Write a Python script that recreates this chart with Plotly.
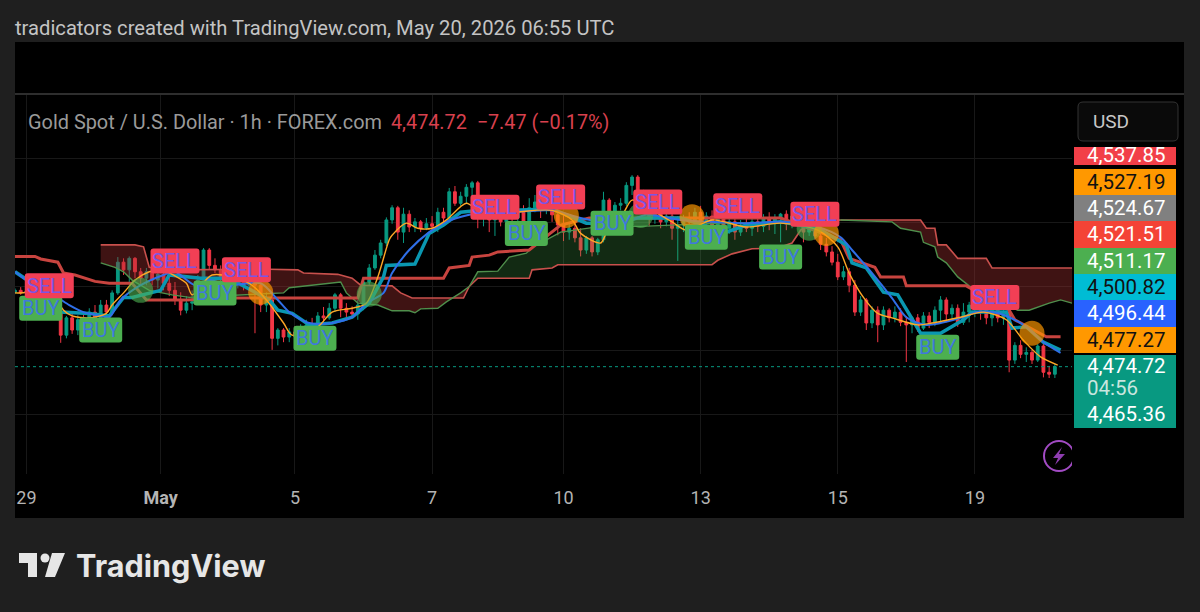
import plotly.graph_objects as go

# candles, one every second hourly bar
candle_open = [4591,4594,4590,4593,4587,4591,4579,4585,4560,4524,4551,4532,4548,4540,4560,4551,4571,4560,4590,4638,
               4626,4644,4623,4613,4623,4610,4619,4605,4594,4579,4563,4574,4576,4610,4657,4633,4626,4613,4623,4607,
               4613,4602,4610,4602,4571,4579,4519,4532,4521,4529,4522,4535,4540,4537,4554,4551,4566,4587,4566,4560,
               4557,4571,4607,4629,4649,4668,4704,4723,4685,4713,4693,4701,4691,4698,4694,4716,4707,4748,4730,4741,
               4755,4762,4712,4726,4704,4716,4701,4713,4707,4716,4701,4723,4732,4719,4727,4712,4696,4685,4691,4676,
               4657,4676,4654,4673,4735,4712,4727,4730,4758,4771,4743,4723,4707,4716,4701,4710,4691,4696,4707,4701,
               4716,4701,4710,4694,4707,4691,4701,4685,4696,4691,4701,4694,4707,4698,4707,4713,4698,4710,4701,4685,
               4701,4679,4666,4654,4638,4615,4623,4602,4560,4579,4543,4563,4540,4563,4551,4560,4544,4540,4551,4535,
               4554,4544,4563,4579,4557,4566,4544,4560,4571,4585,4563,4551,4563,4551,4560,4485,4508,4494,4497,4485,
               4507,4466,4463]
candle_high = [4597,4599,4596,4597,4594,4594,4591,4588,4571,4554,4560,4555,4558,4566,4571,4579,4579,4594,4646,4644,
               4647,4646,4629,4629,4632,4629,4629,4623,4607,4591,4585,4594,4618,4660,4660,4644,4633,4632,4629,4623,
               4623,4618,4616,4605,4591,4590,4535,4535,4535,4538,4541,4548,4551,4560,4568,4574,4590,4590,4574,4569,
               4579,4613,4635,4657,4673,4708,4727,4726,4723,4719,4707,4704,4707,4710,4723,4723,4754,4757,4748,4760,
               4765,4765,4735,4732,4726,4723,4719,4723,4726,4727,4738,4743,4738,4740,4735,4723,4712,4698,4701,4691,
               4679,4679,4676,4748,4738,4732,4738,4763,4774,4774,4751,4730,4723,4727,4716,4716,4710,4712,4716,4723,
               4726,4716,4719,4713,4716,4710,4710,4704,4707,4710,4712,4713,4716,4713,4715,4719,4716,4719,4710,4707,
               4704,4688,4676,4663,4651,4632,4629,4610,4585,4582,4569,4569,4569,4566,4569,4566,4554,4554,4557,4560,
               4560,4569,4585,4583,4572,4572,4574,4576,4590,4588,4569,4569,4569,4569,4563,4513,4516,4505,4501,4510,
               4510,4476,4479]
candle_low = [4588,4587,4585,4582,4579,4571,4563,4551,4512,4519,4526,4524,4532,4535,4541,4544,4540,4555,4587,4618,
              4607,4613,4604,4602,4602,4597,4594,4585,4571,4555,4558,4563,4571,4605,4626,4621,4607,4605,4601,4597,
              4594,4594,4527,4560,4560,4501,4508,4513,4513,4519,4519,4526,4527,4532,4543,4548,4560,4552,4551,4551,
              4548,4563,4602,4626,4644,4663,4698,4673,4668,4685,4685,4685,4688,4685,4685,4701,4704,4726,4726,4729,
              4727,4691,4694,4685,4679,4694,4694,4688,4685,4688,4691,4716,4707,4713,4701,4680,4671,4673,4669,4647,
              4651,4647,4649,4669,4693,4701,4719,4726,4743,4732,4716,4694,4698,4691,4694,4673,4640,4685,4688,4691,
              4694,4688,4685,4688,4679,4682,4673,4679,4685,4679,4685,4685,4688,4682,4669,4688,4691,4694,4669,4679,
              4673,4657,4647,4633,4610,4610,4591,4554,4554,4532,4535,4513,4532,4544,4544,4538,4482,4527,4529,4532,
              4535,4538,4544,4544,4548,4537,4540,4544,4552,4548,4541,4538,4544,4540,4466,4479,4488,4482,4479,4482,
              4458,4457,4457]
candle_close = [4594,4590,4593,4587,4591,4579,4585,4560,4524,4551,4532,4548,4540,4560,4551,4571,4560,4590,4638,4626,
                4644,4623,4613,4623,4610,4619,4605,4594,4579,4563,4574,4576,4610,4657,4633,4626,4613,4623,4607,4613,
                4602,4610,4602,4571,4579,4519,4532,4521,4529,4522,4535,4540,4537,4554,4551,4566,4587,4566,4560,4557,
                4571,4607,4629,4649,4668,4704,4723,4685,4713,4693,4701,4691,4698,4694,4716,4707,4748,4730,4741,4755,
                4762,4712,4726,4704,4716,4701,4713,4707,4716,4701,4723,4732,4719,4727,4712,4696,4685,4691,4676,4657,
                4676,4654,4673,4735,4712,4727,4730,4758,4771,4743,4723,4707,4716,4701,4710,4691,4696,4707,4701,4716,
                4701,4710,4694,4707,4691,4701,4685,4696,4691,4701,4694,4707,4698,4707,4713,4698,4710,4701,4685,4701,
                4679,4666,4654,4638,4615,4623,4602,4560,4579,4543,4563,4540,4563,4551,4560,4544,4540,4551,4535,4554,
                4544,4563,4579,4557,4566,4544,4560,4571,4585,4563,4551,4563,4551,4560,4485,4508,4494,4497,4485,4507,
                4466,4463,4474.72]
candle_bars = list(range(0, 2 * len(candle_close), 2))

# moving averages
fast_bars = [0,4,9,14,17,20,26,32,34,38,42,47,52,55,60,62,69,82,88,94,97,106,111,118,123,127,131,132,137,141,146,151,
             158,163,174,188,195,198,205,207,213,216,223,230,235,244,256,268,281,288,292,297,302,307,316,321,331,339,
             347,353,359,365]
fast_vals = [4590,4591,4602,4583,4563,4554,4551,4558,4571,4590,4610,4623,4626,4619,4605,4587,4618,4605,4579,4543,4524,
             4537,4560,4566,4574,4615,4673,4680,4699,4691,4691,4704,4730,4716,4716,4719,4704,4683,4668,4683,4715,4735,
             4719,4701,4688,4704,4693,4699,4688,4662,4621,4583,4558,4551,4540,4543,4552,4560,4548,4516,4490,4477.27]
blue_bars = [0,4,9,14,19,24,30,33,37,44,52,56,63,68,75,86,92,96,103,111,118,123,129,132,138,145,151,159,163,174,188,198,
             209,216,221,233,244,256,268,281,289,293,300,307,312,319,331,337,342,348,354,360,366]
blue_vals = [4623,4610,4594,4585,4571,4560,4554,4552,4579,4602,4618,4623,4602,4610,4602,4605,4579,4560,4543,4543,4552,
             4574,4590,4621,4657,4685,4701,4712,4715,4716,4719,4707,4699,4704,4712,4704,4701,4699,4701,4693,4677,4657,
             4621,4582,4552,4540,4551,4560,4560,4552,4537,4513,4496.44]
cyan_bars = [0,7,12,16,26,33,38,41,51,54,65,75,89,92,97,103,111,118,124,129,130,140,145,150,156,163,174,188,200,209,218,
             233,249,256,268,281,291,293,298,304,309,314,317,324,332,335,347,349,354,360,366]
cyan_vals = [4623,4602,4579,4560,4558,4554,4583,4583,4594,4618,4613,4613,4579,4563,4558,4540,4543,4552,4574,4615,4633,
             4635,4683,4696,4716,4719,4719,4721,4699,4699,4707,4707,4685,4696,4701,4691,4665,4637,4629,4591,4587,4548,
             4527,4527,4548,4560,4560,4535,4537,4513,4500.82]
base_bars = [0,7,9,15,17,21,28,33,41,46,60,74,92,120,122,150,152,159,160,166,169,180,191,201,268,289,292,301,303,311,
             312,333,348,350,361,366]
base_vals = [4647,4647,4643,4638,4621,4618,4608,4605,4605,4579,4579,4582,4582,4582,4613,4613,4629,4633,4646,4649,4654,
             4657,4696,4707,4707,4673,4644,4630,4615,4615,4601,4601,4563,4548,4521.51,4521.51]

# cloud edges, shifted forward past the last bar
span_a_bars = [30,35,38,41,47,55,61,79,89,94,96,113,114,116,120,127,132,138,140,142,148,151,156,159,162,169,173,179,182,
               186,191,205,219,247,267,282,289,307,310,317,318,322,323,326,330,334,351,355,362,366,370]
span_a_vals = [4637,4630,4623,4610,4594,4587,4583,4587,4590,4590,4598,4606,4607,4590,4574,4571,4562,4562,4559,4565,4566,
               4576,4590,4600,4623,4624,4646,4652,4665,4673,4685,4694,4694,4699,4699,4701,4704,4701,4691,4685,4669,4662,
               4646,4637,4615,4601,4563,4563,4574,4579,4574]
span_b_bars = [30,42,45,47,54,89,99,101,113,118,121,128,132,135,139,157,159,162,180,181,188,190,244,246,251,258,267,272,
               275,280,289,317,319,322,323,326,330,340,342,370]
span_b_vals = [4665,4665,4662,4630,4626,4627,4626,4621,4619,4613,4602,4601,4601,4590,4582,4582,4600,4613,4613,4626,4629,
               4634,4634,4641,4651,4659,4660,4668,4688,4701,4704,4704,4691,4691,4665,4665,4644,4644,4629,4629]
cloud_cross = [159, 289]

# signals
sell_bars = [12,56,81,168,191,225,253,280,343]
sell_vals = [4601,4640,4626,4724,4740,4732,4726,4713,4583]
buy_bars = [9,30,70,105,179,209,242,268,323]
buy_vals = [4566,4532,4590,4519,4683,4699,4677,4646,4505]
cross_up_bars = [44,124,219,278]
cross_up_vals = [4594,4588,4711,4691]
cross_down_bars = [86,193,237,284,356]
cross_down_vals = [4591,4711,4709,4683,4527]

# price scale labels
scale_labels = ["4,537.85","4,527.19","4,524.67","4,521.51","4,511.17","4,500.82","4,496.44","4,477.27","4,474.72","4,465.36"]
scale_fills = ["#f23f48","#ff9800","#808080","#f44336","#4caf50","#00bcd4","#2962ff","#ff9800","#089981","#089981"]
scale_inks = ["#ffffff","#111111","#ffffff","#ffffff","#ffffff","#111111","#ffffff","#111111","#ffffff","#ffffff"]
scale_tops = [147,169,195,221,248,274,300,327,355,402]
scale_bottoms = [165,195,221,248,274,300,327,353,402,428]
scale_centers = [155,182,208,234,261,287,313,340,366,414]

last_price = 4474.72
tick_bars = [4,51,98,146,192,240,288,336]
tick_text = ["29","<b>May</b>","5","7","10","13","15","19"]

W, H = 1200, 612
BG = "#1f1f1f"


def px_x(x):
    return x / W


def px_y(y):
    return 1 - y / H


def part(bars, vals, lo, hi):
    pairs = [(b, v) for b, v in zip(bars, vals) if lo <= b <= hi]
    return [p[0] for p in pairs], [p[1] for p in pairs]


def rect(x0, y0, x1, y1, fill, line=None, layer="above"):
    return dict(type="rect", xref="paper", yref="paper", x0=px_x(x0), x1=px_x(x1), y0=px_y(y1), y1=px_y(y0),
                fillcolor=fill, line=dict(color=line or fill, width=1 if line else 0), layer=layer)


def poly(points, fill):
    path = "M " + " L ".join(f"{px_x(x):.5f},{px_y(y):.5f}" for x, y in points) + " Z"
    return dict(type="path", xref="paper", yref="paper", path=path, fillcolor=fill, line=dict(width=0), layer="above")


def badge(bar, val, w, h, fill):
    # rounded tag that stays the same pixel size on the price scale
    a, b, r = w / 2, h / 2, 3
    path = (f"M {-a + r},{-b} L {a - r},{-b} Q {a},{-b} {a},{-b + r} L {a},{b - r} Q {a},{b} {a - r},{b} "
            f"L {-a + r},{b} Q {-a},{b} {-a},{b - r} L {-a},{-b + r} Q {-a},{-b} {-a + r},{-b} Z")
    return dict(type="path", xref="x", yref="y", xsizemode="pixel", ysizemode="pixel", xanchor=bar, yanchor=val,
                path=path, fillcolor=fill, line=dict(width=0), layer="above")


def note(x, y, text, color, size, anchor="left", font="Roboto"):
    return dict(xref="paper", yref="paper", x=px_x(x), y=px_y(y), text=text, showarrow=False, xanchor=anchor,
                yanchor="middle", align=anchor, font=dict(color=color, size=size, family=font))


fig = go.Figure()

fig.add_trace(go.Candlestick(
    x=candle_bars, open=candle_open, high=candle_high, low=candle_low, close=candle_close,
    increasing=dict(line=dict(color="#089981", width=1), fillcolor="#089981"),
    decreasing=dict(line=dict(color="#f23645", width=1), fillcolor="#f23645"),
    whiskerwidth=0, hoverinfo="skip"))

# three stretches of cloud, the colour flips where the edges cross
stretches = [(0, cloud_cross[0], "rgba(165,50,50,0.38)"),
             (cloud_cross[0], cloud_cross[1], "rgba(76,175,80,0.24)"),
             (cloud_cross[1], 370, "rgba(165,50,50,0.38)")]
for lo, hi, fill in stretches:
    bx, by = part(span_b_bars, span_b_vals, lo, hi)
    ax, ay = part(span_a_bars, span_a_vals, lo, hi)
    fig.add_trace(go.Scatter(x=bx, y=by, mode="lines", line=dict(color="#c8504c", width=1.6), hoverinfo="skip"))
    fig.add_trace(go.Scatter(x=ax, y=ay, mode="lines", line=dict(color="#4f8f4c", width=1.4), fill="tonexty",
                             fillcolor=fill, hoverinfo="skip"))

fig.add_trace(go.Scatter(x=base_bars, y=base_vals, mode="lines", line=dict(color="#c8443f", width=3), hoverinfo="skip"))
fig.add_trace(go.Scatter(x=[0, 370], y=[last_price, last_price], mode="lines",
                         line=dict(color="#089981", width=1, dash="dot"), hoverinfo="skip"))
fig.add_trace(go.Scatter(x=cyan_bars, y=cyan_vals, mode="lines", line=dict(color="#0a97b0", width=3.5), hoverinfo="skip"))
fig.add_trace(go.Scatter(x=blue_bars, y=blue_vals, mode="lines",
                         line=dict(color="#2f6fe8", width=2, shape="spline", smoothing=0.8), hoverinfo="skip"))
fig.add_trace(go.Scatter(x=fast_bars, y=fast_vals, mode="lines",
                         line=dict(color="#ffa726", width=1.4, shape="spline", smoothing=0.8), hoverinfo="skip"))
fig.add_trace(go.Scatter(x=cross_up_bars, y=cross_up_vals, mode="markers",
                         marker=dict(size=25, color="rgba(76,175,80,0.62)"), hoverinfo="skip"))
fig.add_trace(go.Scatter(x=cross_down_bars, y=cross_down_vals, mode="markers",
                         marker=dict(size=25, color="rgba(255,152,0,0.68)"), hoverinfo="skip"))

shapes = [
    rect(15, 42, 1184, 518, "#000000", layer="below"),
    rect(15, 93, 1184, 95, "#2e2e2e", layer="below"),
]
shapes += [badge(b, v, 43, 25, "#4caf50") for b, v in zip(buy_bars, buy_vals)]
shapes += [badge(b, v, 49, 25, "#f23f55") for b, v in zip(sell_bars, sell_vals)]

# price scale
for top, bottom, fill in zip(scale_tops, scale_bottoms, scale_fills):
    shapes.append(rect(1074, top, 1176, bottom, fill))

# currency button, rounded corners
bx0, bx1, by0, by1 = px_x(1078), px_x(1178), px_y(141), px_y(102)
rx, ry = px_x(5), 5 / H
shapes.append(dict(type="path", xref="paper", yref="paper",
                   path=(f"M {bx0 + rx},{by0} L {bx1 - rx},{by0} Q {bx1},{by0} {bx1},{by0 + ry} L {bx1},{by1 - ry} "
                         f"Q {bx1},{by1} {bx1 - rx},{by1} L {bx0 + rx},{by1} Q {bx0},{by1} {bx0},{by1 - ry} "
                         f"L {bx0},{by0 + ry} Q {bx0},{by0} {bx0 + rx},{by0} Z"),
                   fillcolor="#0a0a0a", line=dict(color="#333333", width=1), layer="above"))

# bolt badge, cut off by the price scale
shapes.append(dict(type="circle", xref="paper", yref="paper", x0=px_x(1044), x1=px_x(1074), y0=px_y(471), y1=px_y(441),
                   line=dict(color="#a24bc4", width=2), fillcolor="#000000", layer="above"))
shapes.append(rect(1072, 438, 1077, 474, "#000000"))
shapes.append(poly([(1062, 447), (1053, 458), (1058, 458), (1055, 465), (1065, 454), (1059, 454)], "#8e3db0"))

# TradingView logo
shapes.append(poly([(19, 553), (37, 553), (37, 577), (28, 577), (28, 563), (19, 563)], "#e6e6e6"))
shapes.append(dict(type="circle", xref="paper", yref="paper", x0=px_x(40.5), x1=px_x(49.5), y0=px_y(562.5), y1=px_y(553.5),
                   fillcolor="#e6e6e6", line=dict(width=0), layer="above"))
shapes.append(poly([(52, 553), (65, 553), (55, 577), (45, 577)], "#e6e6e6"))

notes = [
    note(13, 28, "tradicators created with TradingView.com, May 20, 2026 06:55 UTC", "#c4c4c4", 20.2),
    note(26, 123, "Gold Spot / U.S. Dollar · 1h · FOREX.com", "#9a9a9a", 19.9),
    note(389, 123, "4,474.72  −7.47 (−0.17%)", "#d8404e", 19.8),
    note(1091, 122, "USD", "#c8c8c8", 19),
    note(74, 565, "<b>TradingView</b>", "#e6e6e6", 30.6, font="Inter"),
]
for label, ink, center in zip(scale_labels, scale_inks, scale_centers):
    notes.append(note(1085, center, label, ink, 20.5))
notes.append(note(1085, 388, "04:56", "#c8e6df", 20.5))
for b, v in zip(sell_bars, sell_vals):
    notes.append(dict(xref="x", yref="y", x=b, y=v, text="SELL", showarrow=False,
                      font=dict(color="#7b55e6", size=20, family="Roboto")))
for b, v in zip(buy_bars, buy_vals):
    notes.append(dict(xref="x", yref="y", x=b, y=v, text="BUY", showarrow=False,
                      font=dict(color="#3f78dc", size=20, family="Roboto")))

fig.update_layout(
    width=W, height=H, margin=dict(l=0, r=0, t=0, b=0), paper_bgcolor=BG, plot_bgcolor="#000000",
    showlegend=False, shapes=shapes, annotations=notes,
    xaxis=dict(domain=[px_x(15), px_x(1072)], range=[0, 370], rangeslider=dict(visible=False), tickmode="array",
               tickvals=tick_bars, ticktext=tick_text, tickfont=dict(color="#b4b4b4", size=18, family="Roboto"),
               ticks="outside", ticklen=7, tickcolor="rgba(0,0,0,0)", showgrid=True, gridcolor="#181818", gridwidth=1,
               zeroline=False, showline=False),
    yaxis=dict(domain=[px_y(474), px_y(95)], range=[4300 + (478.5 - 474) * 1.5625, 4500 + (350.5 - 95) * 1.5625],
               tickmode="array", tickvals=[4400, 4500, 4600, 4700, 4800], showticklabels=False, showgrid=True,
               gridcolor="#181818", gridwidth=1, zeroline=False, showline=False),
)

# body margin would push the figure 8px off
fig.write_html("out.html", config=dict(displayModeBar=False), post_script="document.body.style.margin='0';")
